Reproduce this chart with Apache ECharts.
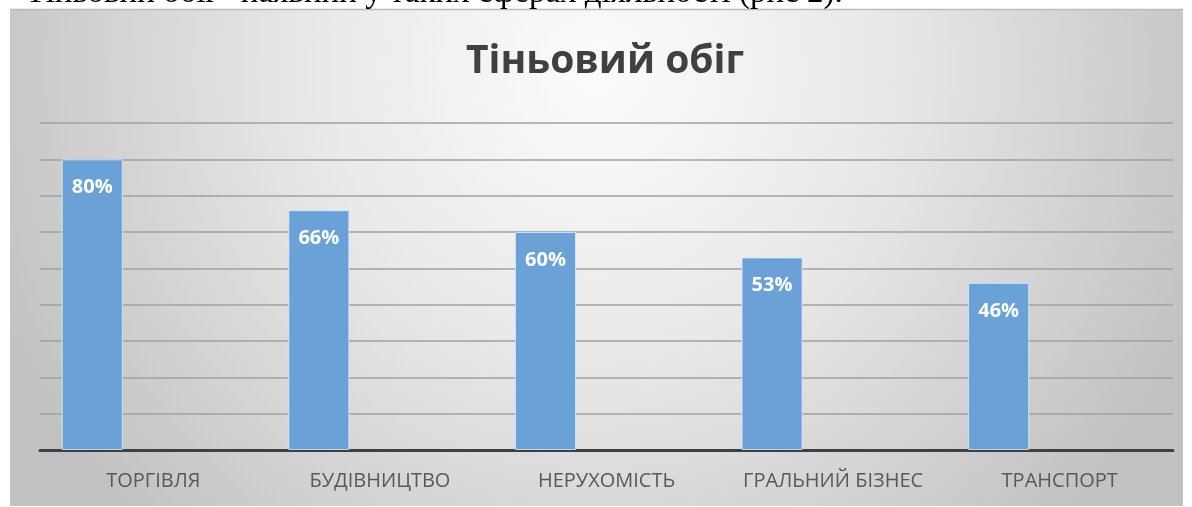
<!DOCTYPE html>
<html>
<head>
<meta charset="utf-8">
<style>
  html, body { margin: 0; padding: 0; background: #ffffff; }
  #chart { width: 1192px; height: 507px; }
</style>
<script src="https://cdn.jsdelivr.net/npm/echarts@6/dist/echarts.min.js"></script>
</head>
<body>
<div id="chart"></div>
<script>
// Sectors of the shadow economy and their share, %
const categories = ['ТОРГІВЛЯ', 'БУДІВНИЦТВО', 'НЕРУХОМІСТЬ', 'ГРАЛЬНИЙ БІЗНЕС', 'ТРАНСПОРТ'];
const shadowShare = [80, 66, 60, 53, 46];
// Two further series in the same cluster carry no values
const seriesB = [];
const seriesC = [];
const chartTitle = 'Тіньовий обіг';
const captionLine = '"Тіньовий обіг" наявний у таких сферах діяльності (рис 2).';

const chart = echarts.init(document.getElementById('chart'), null, { renderer: 'canvas' });

const option = {
  animation: false,
  backgroundColor: '#ffffff',
  graphic: [
    {
      type: 'rect',
      z: -10,
      shape: { x: 10, y: 9, width: 1173, height: 497 },
      style: {
        fill: {
          type: 'radial', x: 0.5, y: 0.12, r: 1.3,
          colorStops: [
            { offset: 0, color: '#fcfcfc' },
            { offset: 0.45, color: '#e8e8e8' },
            { offset: 1, color: '#c2c2c2' }
          ]
        }
      }
    },
    {
      type: 'line',
      z: -9,
      shape: { x1: 10, y1: 9.5, x2: 1183, y2: 9.5 },
      style: { stroke: '#bcbcbc', lineWidth: 1.5 }
    },
    {
      type: 'text',
      left: 12,
      top: -23,
      z: -8,
      style: {
        text: captionLine,
        font: '33px "Liberation Serif", serif',
        fill: '#000000'
      }
    },
    {
      type: 'text',
      x: 605,
      y: 62,
      style: {
        text: chartTitle,
        font: 'bold 39px "Open Sans", sans-serif',
        fill: '#404040',
        align: 'center',
        verticalAlign: 'middle'
      }
    }
  ],
  grid: { left: 40, right: 19, top: 123, bottom: 57, containLabel: false },
  xAxis: {
    type: 'category',
    data: categories,
    axisLine: { show: true, lineStyle: { color: '#404040', width: 3 } },
    axisTick: { show: false },
    axisLabel: {
      interval: 0,
      color: '#595959',
      fontFamily: '"Open Sans", sans-serif',
      fontSize: 20,
      margin: 21
    }
  },
  yAxis: {
    type: 'value',
    min: 0,
    max: 90,
    interval: 10,
    axisLabel: { show: false },
    axisLine: { show: false },
    axisTick: { show: false },
    splitLine: { show: true, lineStyle: { color: '#a0a0a0', width: 1.5 } }
  },
  series: [
    {
      name: 'Частка',
      type: 'bar',
      data: shadowShare,
      barGap: '0%',
      barCategoryGap: '19.2%',
      itemStyle: { color: '#6aa2d8', borderColor: 'rgba(220,235,250,0.8)', borderWidth: 1 },
      label: {
        show: true,
        position: 'insideTop',
        distance: 18,
        formatter: '{c}%',
        color: '#ffffff',
        fontFamily: '"Open Sans", sans-serif',
        fontWeight: 'bold',
        fontSize: 20
      }
    },
    { name: 'Серія 2', type: 'bar', data: seriesB, barGap: '0%', barCategoryGap: '19.2%' },
    { name: 'Серія 3', type: 'bar', data: seriesC, barGap: '0%', barCategoryGap: '19.2%' }
  ]
};

chart.setOption(option);
</script>
</body>
</html>
